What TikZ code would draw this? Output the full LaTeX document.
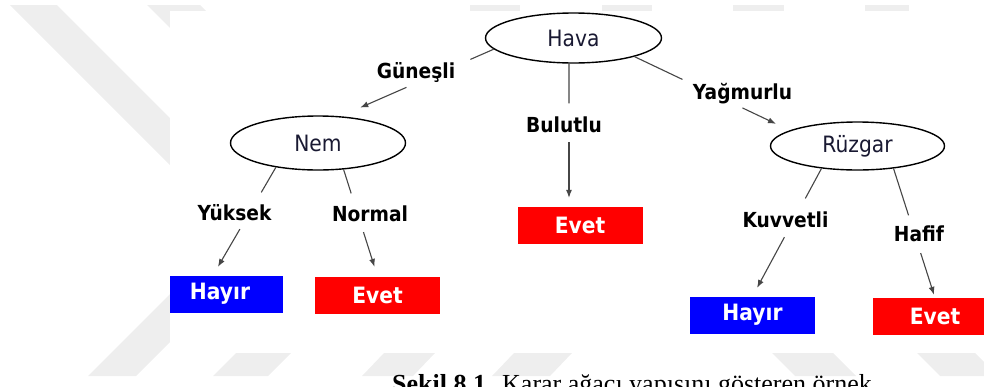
\documentclass[tikz,border=0pt]{standalone}
\usepackage{fontspec}
\setmainfont{Liberation Serif}
\newfontfamily\tah[FakeStretch=0.9]{DejaVu Sans}
\usetikzlibrary{calc,arrows.meta,shapes.geometric}
\definecolor{wm}{RGB}{238,238,238}
\definecolor{edgecol}{RGB}{70,70,70}
\definecolor{boxblue}{RGB}{0,0,255}
\definecolor{boxred}{RGB}{255,0,0}
\definecolor{attrtext}{RGB}{25,25,50}
\tikzset{
  attr/.style={ellipse, draw=black, line width=1.4pt, fill=white, inner sep=0pt,
    text=attrtext, font=\tah\fontsize{22.5}{26}\selectfont},
  leaf/.style={rectangle, minimum width=125pt, minimum height=37pt, inner sep=0pt,
    text=white, font=\tah\bfseries\fontsize{22.5}{26}\selectfont},
  lbl/.style={inner sep=0pt, anchor=base, text=black,
    font=\tah\bfseries\fontsize{20.7}{24}\selectfont},
  conn/.style={draw=edgecol, line width=1.1pt},
  arr/.style={conn, -{Latex[length=8pt,width=6pt]}},
  capt/.style={inner sep=0pt, anchor=base west, text=black}
}
\newcommand\brkedge[5]{%
  \draw[conn] #1 -- ($#1!#3!#2$);
  \draw[arr] ($#1!#4!#2$) -- ($#1!#5!#2$);}
\begin{document}
\begin{tikzpicture}[x=1pt,y=-1pt]
\useasboundingbox (0,0) rectangle (984,386);
% watermark
\fill[wm] (10,5) -- (57,5) -- (230,178) -- (183,178) -- cycle;
\fill[wm] (147,5) -- (200,5) -- (260,65) -- (207,65) -- cycle;
\fill[wm] (470,5) rectangle (520,11);
\fill[wm] (602,5) rectangle (652,11);
\fill[wm] (733,5) rectangle (784,11);
\fill[wm] (865,5) rectangle (909,11);
\fill[wm] (88,376) -- (136,376) -- (222,290) -- (174,290) -- cycle;
\fill[wm] (213,376) -- (268,376) -- (291,353) -- (236,353) -- cycle;
\fill[wm] (362,376) -- (413,376) -- (435,353) -- (384,353) -- cycle;
\fill[wm] (492,376) -- (550,376) -- (572,353) -- (514,353) -- cycle;
\fill[wm] (772,353) -- (833,353) -- (856,376) -- (795,376) -- cycle;
\fill[wm] (917,353) -- (975,353) -- (998,376) -- (940,376) -- cycle;
% figure area
\fill[white] (170,11) rectangle (984,353);
\begin{scope}
\clip (170,11) rectangle (984,353);
\node[attr, minimum width=176pt, minimum height=50pt] (hava) at (573.5,38) {Hava};
\node[attr, minimum width=175pt, minimum height=54pt] (nem) at (318,143) {Nem};
\node[attr, minimum width=174pt, minimum height=48pt] (ruz) at (857.5,146) {Rüzgar};
\node[leaf, fill=boxblue] (hayL) at (220,294) {Hayır};
\node[leaf, fill=boxred] (evL) at (377.5,295) {Evet};
\node[leaf, fill=boxred] (evM) at (580,225.5) {Evet};
\node[leaf, fill=boxblue] (hayR) at (752.5,315) {Hayır};
\node[leaf, fill=boxred] (evR) at (935,316.5) {Evet};
\node[lbl] (gun) at (416,78) {Güneşli};
\node[lbl] (bul) at (564,132) {Bulutlu};
\node[lbl] (yag) at (742.5,99) {Yağmurlu};
\node[lbl] (yuk) at (234.5,220) {Yüksek};
\node[lbl] (nor) at (370,221) {Normal};
\node[lbl] (kuv) at (785.5,227) {Kuvvetli};
\node[lbl] (haf) at (919,241) {Hafif};
\coordinate (bulEnd) at (hava.260 |- evM.north);
\coordinate (yukEnd) at ($(hayL.north)+(-7,0)$);
\brkedge{(hava.188.5)}{(nem.50)}{0.152}{0.569}{0.871}
\brkedge{(hava.260)}{(bulEnd)}{0.278}{0.549}{0.9375}
\brkedge{(hava.343)}{(ruz.167)}{0.309}{0.696}{0.912}
\brkedge{(nem.210)}{(yukEnd)}{0.232}{0.572}{0.922}
\brkedge{(nem.314)}{(evL.north)}{0.224}{0.586}{0.912}
\brkedge{(ruz.212)}{(hayR.north)}{0.234}{0.537}{0.934}
\brkedge{(ruz.328)}{(evR.north)}{0.362}{0.654}{0.977}
\end{scope}
% caption (cut by the page edge)
\node[capt, font=\bfseries\fontsize{26}{30}\selectfont] (capA) at (392,392) {Şekil 8.1.};
\node[capt, font=\fontsize{26}{30}\selectfont] (capB) at (502,392) {Karar ağacı yapısını gösteren örnek};
\end{tikzpicture}
\end{document}
